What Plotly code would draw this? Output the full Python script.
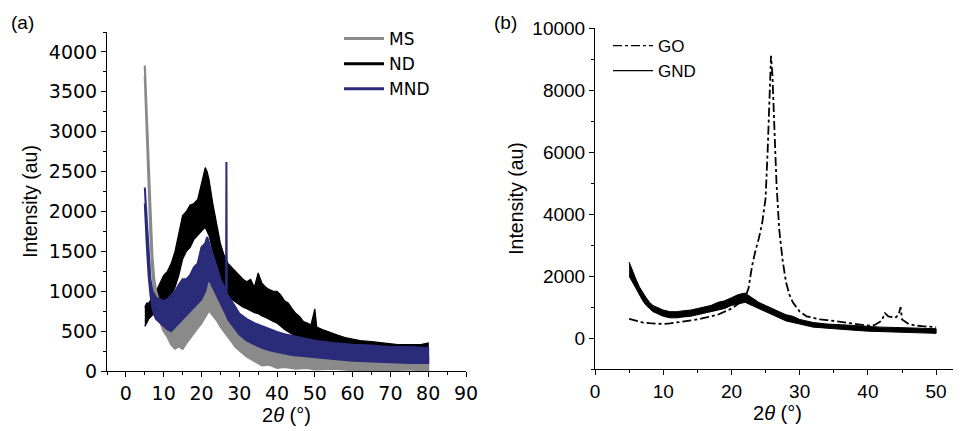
import plotly.graph_objects as go

# ---------------- Panel (a) data: noisy XRD bands (upper / lower envelope) ----------------
ms_x  = [5.0, 5.5, 6, 6.5, 7, 7.5, 8, 9, 10, 11, 12, 13, 14, 15, 16, 17, 18, 19, 20, 21, 22, 23, 24, 25, 26, 27, 28, 29, 30,
         32, 34, 36, 38, 40, 42, 45, 48, 50, 55, 60, 65, 70, 75, 80]
ms_hi = [3830, 3200, 2500, 1900, 1450, 1150, 1000, 850, 750, 680, 650, 640, 650, 700, 720, 780, 820, 880, 950, 1020, 1100,
         1020, 930, 850, 780, 700, 620, 550, 480, 420, 370, 330, 300, 280, 260, 240, 220, 210, 200, 190, 180, 170, 170, 180]
ms_lo = [3700, 3000, 2300, 1700, 1250, 950, 780, 620, 500, 430, 330, 280, 310, 280, 350, 420, 480, 540, 600, 680, 760,
         700, 640, 560, 500, 430, 370, 300, 260, 180, 130, 70, 80, 40, 50, 30, 40, 20, 30, 10, 0, 10, 20, 0]

mnd_x  = [5.0, 5.5, 6, 6.5, 7, 7.5, 8, 9, 10, 11, 12, 13, 14, 15, 16, 17, 18, 19, 20, 21, 21.5, 22, 23, 24, 25, 26, 26.5,
          26.6, 26.7, 27, 28, 29, 30, 32, 34, 36, 38, 40, 42, 44, 46, 48, 50, 55, 60, 65, 70, 75, 80]
mnd_hi = [2300, 1900, 1450, 1150, 1000, 950, 920, 900, 880, 900, 950, 1000, 1080, 1150, 1150, 1200, 1300, 1350, 1550,
          1600, 1680, 1600, 1450, 1300, 1150, 1050, 1000, 2620, 950, 950, 880, 800, 720, 650, 600, 560, 520, 490, 460,
          440, 420, 400, 380, 350, 330, 320, 300, 300, 290]
mnd_lo = [2100, 1600, 1200, 950, 800, 700, 650, 600, 560, 520, 500, 560, 600, 650, 700, 750, 800, 850, 900, 1000, 1100,
          1150, 1050, 950, 850, 750, 700, 700, 690, 650, 580, 520, 460, 380, 330, 290, 260, 240, 220, 200, 190, 180,
          170, 150, 130, 120, 110, 100, 100]

nd_x  = [5.0, 5.5, 6, 7, 8, 9, 10, 11, 12, 13, 14, 15, 16, 17, 18, 19, 20, 20.5, 21, 21.5, 22, 23, 24, 25, 26, 27, 28,
         29, 30, 31, 32, 33, 34, 35, 36, 37, 38, 39, 40, 41, 42, 43, 44, 45, 46, 47, 48, 49, 50, 50.5, 52, 54, 56, 58,
         60, 62, 65, 68, 70, 72, 75, 78, 80]
nd_hi = [800, 850, 850, 920, 1000, 1100, 1200, 1250, 1350, 1500, 1750, 1950, 2000, 2080, 2100, 2150, 2350, 2450, 2550,
         2500, 2400, 2100, 1850, 1600, 1450, 1350, 1300, 1250, 1200, 1150, 1120, 1150, 1050, 1230, 1100, 1050, 1020,
         1000, 1000, 950, 880, 850, 780, 720, 680, 620, 600, 580, 780, 550, 520, 480, 450, 420, 400, 380, 370, 350,
         340, 330, 330, 330, 350]
nd_lo = [560, 600, 650, 700, 780, 820, 850, 900, 950, 1050, 1200, 1400, 1500, 1550, 1650, 1700, 1750, 1780, 1800, 1760,
         1700, 1500, 1350, 1200, 1050, 950, 900, 860, 830, 800, 780, 760, 730, 720, 690, 670, 650, 620, 600, 560, 520,
         480, 450, 420, 400, 370, 350, 340, 320, 310, 290, 260, 240, 220, 210, 200, 190, 180, 170, 165, 160, 155, 150]

# ---------------- Panel (b) data ----------------
go_x = [5, 6, 7, 8, 9, 10, 11, 12, 13, 14, 15, 16, 17, 18, 19, 20, 21, 22, 22.5, 23, 23.5, 24, 24.5, 25, 25.3, 25.6,
        25.8, 26, 26.3, 26.6, 27, 27.5, 28, 28.5, 29, 30, 31, 32, 33, 34, 35, 36, 38, 40, 41, 42, 42.5, 43, 44, 44.5,
        44.8, 45, 46, 47, 48, 50]
go_y = [620, 550, 500, 480, 460, 450, 470, 500, 530, 560, 600, 650, 700, 750, 850, 950, 1100, 1300, 1600, 2300, 2800,
        3200, 3700, 4500, 6000, 8000, 9100, 8500, 6500, 5000, 3500, 2500, 1800, 1400, 1150, 850, 700, 650, 600, 580,
        550, 500, 450, 400, 420, 550, 800, 700, 650, 750, 1000, 600, 450, 400, 380, 350]

gnd_x  = [5, 5.5, 6, 6.5, 7, 7.5, 8, 8.5, 9, 10, 11, 12, 13, 14, 15, 16, 17, 18, 19, 20, 21, 22, 23, 24, 25, 26, 27, 28,
          29, 30, 32, 34, 36, 38, 40, 42, 44, 46, 48, 50]
gnd_hi = [2450, 2150, 1900, 1650, 1450, 1300, 1150, 1050, 1000, 900, 850, 850, 880, 900, 950, 1000, 1050, 1150, 1200,
          1300, 1400, 1450, 1300, 1150, 1050, 950, 850, 750, 700, 600, 500, 450, 430, 400, 380, 350, 340, 330, 320, 300]
gnd_lo = [2000, 1800, 1600, 1400, 1200, 1050, 950, 850, 800, 700, 650, 650, 680, 700, 750, 800, 850, 900, 950, 1050,
          1100, 1150, 1050, 950, 850, 750, 650, 550, 500, 450, 350, 300, 280, 250, 220, 200, 180, 170, 160, 150]

a_yticks = [0, 500, 1000, 1500, 2000, 2500, 3000, 3500, 4000]
a_xticks = [0, 10, 20, 30, 40, 50, 60, 70, 80, 90]
b_yticks = [0, 2000, 4000, 6000, 8000, 10000]
b_xticks = [0, 10, 20, 30, 40, 50]

GRAY = "#8a8a8a"
NAVY = "#2a2c7a"
BLACK = "#000000"
FONT = "Liberation Sans, Arial, sans-serif"
WIDE = "DejaVu Sans, Liberation Sans, sans-serif"

fig = go.Figure()


def band(x, hi, lo, color, xa, ya, lw=1.0):
    return go.Scatter(x=list(x) + list(x)[::-1], y=list(hi) + list(lo)[::-1], fill="toself",
                      fillcolor=color, line=dict(color=color, width=lw), mode="lines",
                      showlegend=False, hoverinfo="skip", xaxis=xa, yaxis=ya)


# panel (a) bands: ND under, MS, MND on top
fig.add_trace(band(nd_x, nd_hi, nd_lo, BLACK, "x", "y", 1.2))
fig.add_trace(band(ms_x, ms_hi, ms_lo, GRAY, "x", "y", 2.2))
fig.add_trace(band(mnd_x, mnd_hi, mnd_lo, NAVY, "x", "y", 2.0))

# legend entries for panel (a)
for name, col in [("MS", GRAY), ("ND", BLACK), ("MND", NAVY)]:
    fig.add_trace(go.Scatter(x=[None], y=[None], mode="lines", name=name, line=dict(color=col, width=3),
                             xaxis="x", yaxis="y", legend="legend"))

# panel (b)
fig.add_trace(band(gnd_x, gnd_hi, gnd_lo, BLACK, "x2", "y2"))
fig.add_trace(go.Scatter(x=go_x, y=go_y, mode="lines", line=dict(color=BLACK, width=1.8, dash="dashdot"),
                         showlegend=False, hoverinfo="skip", xaxis="x2", yaxis="y2"))
fig.add_trace(go.Scatter(x=[None], y=[None], mode="lines", name="GO",
                         line=dict(color=BLACK, width=1.3, dash="dashdot"), xaxis="x2", yaxis="y2", legend="legend2"))
fig.add_trace(go.Scatter(x=[None], y=[None], mode="lines", name="GND",
                         line=dict(color=BLACK, width=1.3), xaxis="x2", yaxis="y2", legend="legend2"))

# the page body has an 8 px margin; place everything in reference pixel coordinates minus that offset
OFF = 8
W, H = 961 - OFF, 431 - OFF


def px(v):
    return (v - OFF) / W


def py(v):
    return 1 - (v - OFF) / H


axcommon = dict(showline=True, linecolor="black", linewidth=1, ticks="outside", ticklen=5, tickwidth=1,
                tickcolor="black", showgrid=False, zeroline=False, mirror=False, automargin=False)
minor_style = dict(ticks="outside", ticklen=3, tickcolor="black")

fig.update_layout(
    width=W, height=H, margin=dict(l=0, r=0, t=0, b=0, autoexpand=False),
    paper_bgcolor="white", plot_bgcolor="white",
    font=dict(family=FONT, color="black"),
    xaxis=dict(domain=[px(107), px(466)], range=[-5, 90], tickvals=a_xticks,
               ticktext=[str(v) for v in a_xticks], anchor="y",
               tickfont=dict(size=19, family=WIDE), minor=dict(dtick=5, tick0=-5, **minor_style),
               title=dict(text="2<i>θ</i> (°)", font=dict(size=20), standoff=4), **axcommon),
    yaxis=dict(domain=[py(371), py(32)], range=[0, 4250], tickvals=a_yticks,
               ticktext=[str(v) for v in a_yticks], anchor="x",
               tickfont=dict(size=19, family=WIDE), minor=dict(dtick=250, **minor_style),
               title=dict(text="Intensity (au)", font=dict(size=19.5), standoff=6), **axcommon),
    xaxis2=dict(domain=[px(595), px(960)], range=[0, 53.5], tickvals=b_xticks,
                ticktext=[str(v) for v in b_xticks], anchor="y2",
                tickfont=dict(size=19), minor=dict(dtick=5, **minor_style),
                title=dict(text="2<i>θ</i> (°)", font=dict(size=20), standoff=4), **axcommon),
    yaxis2=dict(domain=[py(369), py(28)], range=[-1000, 10000], tickvals=b_yticks,
                ticktext=[str(v) for v in b_yticks], anchor="x2",
                tickfont=dict(size=19), minor=dict(dtick=1000, tick0=-1000, **minor_style),
                title=dict(text="Intensity (au)", font=dict(size=19.5), standoff=3), **axcommon),
    legend=dict(x=px(339), y=py(21), xanchor="left", yanchor="top", bgcolor="rgba(0,0,0,0)",
                font=dict(size=17, family=WIDE), tracegroupgap=0, itemwidth=40),
    legend2=dict(x=px(608), y=py(28), xanchor="left", yanchor="top", bgcolor="rgba(0,0,0,0)",
                 font=dict(size=17), tracegroupgap=0, itemwidth=40),
    annotations=[
        dict(text="(a)", x=px(9), y=py(22), xref="paper", yref="paper", xanchor="left", yanchor="middle",
             showarrow=False, font=dict(size=19)),
        dict(text="(b)", x=px(492), y=py(22), xref="paper", yref="paper", xanchor="left", yanchor="middle",
             showarrow=False, font=dict(size=19)),
    ],
)

fig.write_html("out.html")
